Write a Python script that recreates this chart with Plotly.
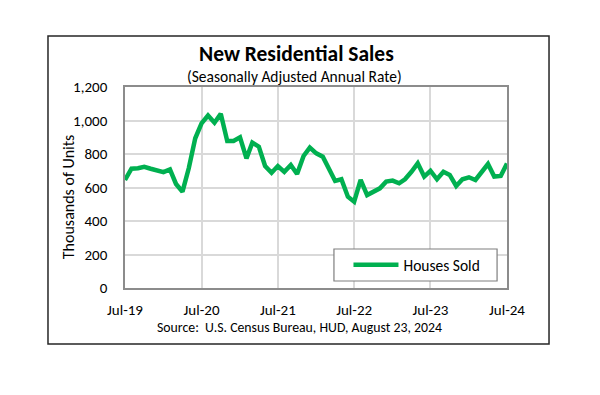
import pandas as pd
import plotly.graph_objects as go

# Monthly new home sales, SAAR, thousands of units, Jul-2019 .. Jul-2024
months = pd.date_range("2019-07-01", periods=61, freq="MS")
houses_sold = [
    645, 712, 715, 724, 712, 700, 692, 708, 621, 575,
    715, 894, 983, 1030, 987, 1040, 878, 878, 900, 774,
    868, 844, 728, 688, 728, 693, 734, 681, 788, 838,
    804, 784, 715, 639, 649, 545, 515, 645, 555, 575,
    595, 635, 641, 625, 649, 694, 744, 665, 700, 649,
    694, 675, 609, 649, 661, 645, 694, 740, 665, 669, 744,
]
tick_dates = ["2019-07-01", "2020-07-01", "2021-07-01", "2022-07-01", "2023-07-01", "2024-07-01"]
tick_labels = ["Jul-19", "Jul-20", "Jul-21", "Jul-22", "Jul-23", "Jul-24"]
y_ticks = [0, 200, 400, 600, 800, 1000, 1200]
y_tick_labels = ["0", "200", "400", "600", "800", "1,000", "1,200"]

FONT = "Carlito, Lato, sans-serif"
GREEN = "#00B050"

fig = go.Figure()
fig.add_trace(go.Scatter(
    x=months, y=houses_sold, mode="lines", name="Houses Sold",
    line=dict(color=GREEN, width=4.5),
))

fig.update_layout(
    width=600, height=395,
    margin=dict(l=117, r=101, t=79, b=115),
    paper_bgcolor="white", plot_bgcolor="white",
    font=dict(family=FONT, color="#000000", size=15),
    showlegend=True,
    legend=dict(x=0.585, y=0.114, xanchor="left", yanchor="middle",
                bgcolor="rgba(0,0,0,0)", borderwidth=0, itemwidth=45,
                font=dict(size=15.5, family=FONT, color="#000000")),
    xaxis=dict(
        type="date", range=["2019-07-01", "2024-07-01"],
        tickvals=tick_dates, ticktext=tick_labels,
        showgrid=True, gridcolor="#d9d9d9", gridwidth=1.5,
        showline=True, linecolor="#8c8c8c", linewidth=1.5, mirror=True,
        ticks="", ticklabelstandoff=7,
        tickfont=dict(size=15, family=FONT, color="#000000"),
        zeroline=False,
    ),
    yaxis=dict(
        range=[0, 1200], tickvals=y_ticks, ticktext=y_tick_labels,
        showgrid=True, gridcolor="#d9d9d9", gridwidth=1.5,
        showline=True, linecolor="#8c8c8c", linewidth=1.5, mirror=True,
        ticks="", ticklabelstandoff=13,
        tickfont=dict(size=15, family=FONT, color="#000000"),
        zeroline=False,
    ),
)

# Outer chart border
fig.add_shape(type="rect", xref="paper", yref="paper",
              x0=-0.2016, x1=1.110, y0=-0.2786, y1=1.2537,
              line=dict(color="#262626", width=1.5), layer="below")
# Legend box
fig.add_shape(type="rect", xref="paper", yref="paper",
              x0=0.547, x1=0.974, y0=0.0348, y1=0.194,
              line=dict(color="#7f7f7f", width=1.2), fillcolor="white", layer="above")

fig.add_annotation(text="<b>New Residential Sales</b>", xref="paper", yref="paper",
                   x=0.450, y=1.165, showarrow=False, xanchor="center", yanchor="middle",
                   font=dict(size=21.5, family=FONT, color="#000000"))
fig.add_annotation(text="(Seasonally Adjusted Annual Rate)", xref="paper", yref="paper",
                   x=0.445, y=1.050, showarrow=False, xanchor="center", yanchor="middle",
                   font=dict(size=15.5, family=FONT, color="#000000"))
fig.add_annotation(text="Thousands of Units", xref="paper", yref="paper",
                   x=-0.146, y=0.453, showarrow=False, textangle=-90,
                   xanchor="center", yanchor="middle",
                   font=dict(size=16, family=FONT, color="#000000"))
fig.add_annotation(text="Source:  U.S. Census Bureau, HUD, August 23, 2024", xref="paper", yref="paper",
                   x=0.458, y=-0.199, showarrow=False, xanchor="center", yanchor="middle",
                   font=dict(size=13.8, family=FONT, color="#000000"))

fig.write_html("out.html")
